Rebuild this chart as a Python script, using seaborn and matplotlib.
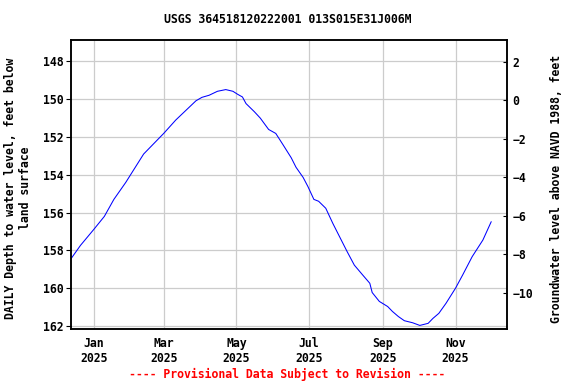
import pandas as pd
import numpy as np
import matplotlib
matplotlib.use('Agg')
import matplotlib.pyplot as plt
import seaborn as sns

# Values (depth below land surface, ft)
dates = ['2024-12-13', '2024-12-21', '2025-01-01', '2025-01-10', '2025-01-18',
         '2025-01-28', '2025-02-04', '2025-02-12', '2025-03-01', '2025-03-11',
         '2025-03-22', '2025-03-28', '2025-04-02', '2025-04-08', '2025-04-15',
         '2025-04-22', '2025-04-28', '2025-05-02', '2025-05-06', '2025-05-09',
         '2025-05-16', '2025-05-21', '2025-05-28', '2025-06-03', '2025-06-09',
         '2025-06-16', '2025-06-20', '2025-06-26', '2025-06-30', '2025-07-05',
         '2025-07-09', '2025-07-15', '2025-07-21', '2025-07-28', '2025-08-02',
         '2025-08-08', '2025-08-15', '2025-08-21', '2025-08-23', '2025-08-29',
         '2025-09-05', '2025-09-09', '2025-09-14', '2025-09-19', '2025-09-26',
         '2025-10-02', '2025-10-09', '2025-10-13', '2025-10-18', '2025-10-24',
         '2025-11-01', '2025-11-07', '2025-11-15', '2025-11-24', '2025-12-01']
depth = [158.44, 157.73, 156.90, 156.20, 155.30,
         154.40, 153.70, 152.90, 151.80, 151.10,
         150.44, 150.08, 149.90, 149.79, 149.58,
         149.49, 149.58, 149.74, 149.88, 150.23,
         150.66, 151.00, 151.60, 151.81, 152.40,
         153.10, 153.60, 154.14, 154.62, 155.30,
         155.40, 155.77, 156.58, 157.45, 158.07,
         158.78, 159.30, 159.74, 160.23, 160.70,
         160.97, 161.23, 161.50, 161.72, 161.83,
         161.97, 161.86, 161.60, 161.33, 160.80,
         160.00, 159.30, 158.33, 157.45, 156.48]

left_ticks = [148, 150, 152, 154, 156, 158, 160, 162]
right_ticks = [2, 0, -2, -4, -6, -8, -10]
month_ticks = ['2025-01-01', '2025-03-01', '2025-05-01', '2025-07-01', '2025-09-01', '2025-11-01']
month_labels = ['Jan\n2025', 'Mar\n2025', 'May\n2025', 'Jul\n2025', 'Sep\n2025', 'Nov\n2025']

df = pd.DataFrame({'date': pd.to_datetime(dates), 'depth': depth})

sns.set_style('white')
plt.rcParams['font.family'] = ['DejaVu Sans Mono']
plt.rcParams['font.weight'] = 'bold'
plt.rcParams['font.size'] = 8.3
plt.rcParams['text.color'] = 'black'
plt.rcParams['xtick.color'] = 'black'
plt.rcParams['ytick.color'] = 'black'
plt.rcParams['xtick.labelcolor'] = 'black'
plt.rcParams['ytick.labelcolor'] = 'black'

fig = plt.figure(figsize=(5.76, 3.84), dpi=100)
ax1 = fig.add_axes([0.1233, 0.1432, 0.7564, 0.7539])

sns.lineplot(data=df, x='date', y='depth', ax=ax1, color='#0000ff', linewidth=0.75)
ax1.set_xlim(pd.Timestamp('2024-12-13'), pd.Timestamp('2025-12-14'))
ax1.set_ylim(162.16, 146.84)
ax1.set_yticks(left_ticks)
ax1.set_xticks(pd.to_datetime(month_ticks))
ax1.set_xticklabels(month_labels)
ax1.grid(True, color='#cccccc', linewidth=0.9)
ax1.set_axisbelow(True)
ax1.set_xlabel('')
ax1.set_ylabel('')
ax1.tick_params(axis='y', direction='out', length=3.5, width=0.8, pad=1.5, colors='black')
ax1.tick_params(axis='x', length=0, pad=6, colors='black')
for s in ax1.spines.values():
    s.set_color('black')
    s.set_linewidth(1.1)

# Right axis: level above NAVD 1988
ax2 = ax1.twinx()
ax2.set_ylim(-11.88, 3.17)
ax2.set_yticks(right_ticks)
ax2.tick_params(axis='y', direction='in', length=3, width=0.8, pad=4, colors='black')
ax2.grid(False)
for s in ax2.spines.values():
    s.set_color('black')
    s.set_linewidth(1.1)

fig.text(0.5, 0.948, 'USGS 364518120222001 013S015E31J006M', ha='center', va='center')
fig.text(0.032, 0.51, 'DAILY Depth to water level, feet below\nland surface',
         rotation=90, ha='center', va='center', multialignment='center')
fig.text(0.966, 0.508, 'Groundwater level above NAVD 1988, feet',
         rotation=90, ha='center', va='center')
fig.text(0.498, 0.025, '---- Provisional Data Subject to Revision ----',
         color='red', ha='center', va='center')

fig.savefig('out.png', dpi=100)
